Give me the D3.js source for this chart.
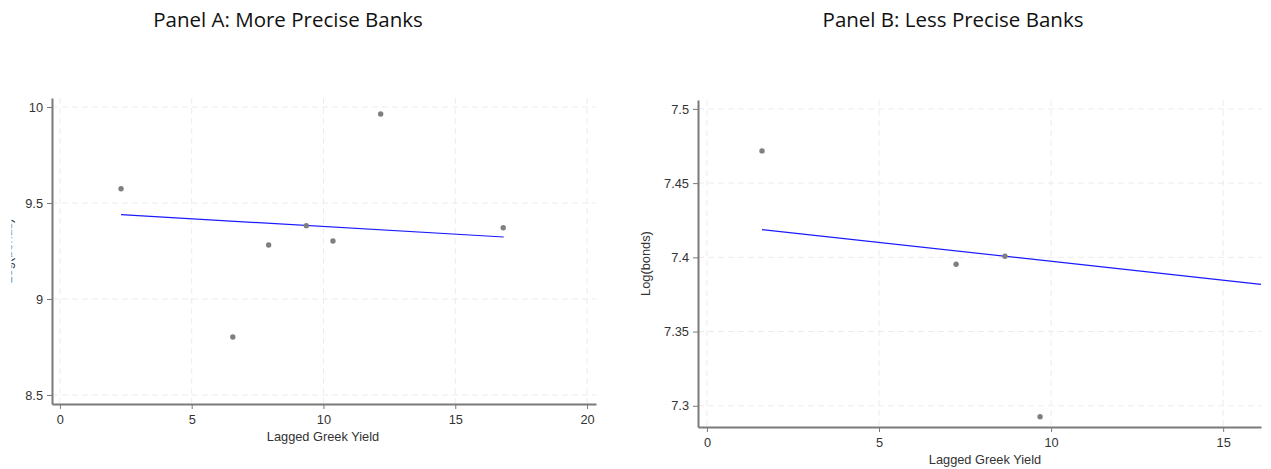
<!DOCTYPE html>
<html><head><meta charset="utf-8">
<script src="https://cdn.jsdelivr.net/npm/d3@7"></script>
<style>
body{margin:0;background:#fff;}
svg{display:block;}
.tick text{font-family:"Liberation Sans",Arial,sans-serif;font-size:12.8px;fill:#333;}
</style></head>
<body>
<svg id="chart" width="1271" height="469"></svg>
<script>
// Panel A: More Precise Banks
const yieldA = [2.32, 6.56, 7.92, 9.35, 10.36, 12.17, 16.82];
const bondsA = [9.574, 8.802, 9.281, 9.382, 9.302, 9.964, 9.371];
const fitA_x = [2.32, 16.84];
const fitA_y = [9.439, 9.323];
const ticksAx = [0, 5, 10, 15, 20];
const ticksAy = [8.5, 9, 9.5, 10];
const domainAx = [-0.3, 20.34];
const domainAy = [8.453, 10.047];

// Panel B: Less Precise Banks
const yieldB = [1.60, 7.24, 8.66, 9.68];
const bondsB = [7.4717, 7.3953, 7.4007, 7.2926];
const fitB_x = [1.60, 16.1];
const fitB_y = [7.4187, 7.3818];
const ticksBx = [0, 5, 10, 15];
const ticksBy = [7.3, 7.35, 7.4, 7.45, 7.5];
const domainBx = [-0.26, 16.1];
const domainBy = [7.2857, 7.506];

const titles = ["Panel A: More Precise Banks", "Panel B: Less Precise Banks"];
const xTitle = "Lagged Greek Yield";
const yTitle = "Log(bonds)";

const svg = d3.select("#chart");
const defs = svg.append("defs");
defs.append("clipPath").attr("id","clipA").append("rect")
  .attr("x",11.5).attr("y",0).attr("width",40).attr("height",469);

function panel(cfg){
  const g = svg.append("g");
  const x = d3.scaleLinear().domain(cfg.dx).range([cfg.left, cfg.right]);
  const y = d3.scaleLinear().domain(cfg.dy).range([cfg.bottom, cfg.top]);
  // grid
  g.append("g").selectAll("line").data(cfg.tx).join("line")
    .attr("x1",d=>x(d)).attr("x2",d=>x(d)).attr("y1",cfg.top).attr("y2",cfg.bottom)
    .attr("stroke","#ececec").attr("stroke-width",1).attr("stroke-dasharray","6,4");
  g.append("g").selectAll("line").data(cfg.ty).join("line")
    .attr("y1",d=>y(d)).attr("y2",d=>y(d)).attr("x1",cfg.left).attr("x2",cfg.right)
    .attr("stroke","#ececec").attr("stroke-width",1).attr("stroke-dasharray","6,4");
  // axes
  const ax = g.append("g").attr("transform",`translate(0,${cfg.bottom})`)
    .call(d3.axisBottom(x).tickValues(cfg.tx).tickFormat(d3.format("")).tickSize(5).tickPadding(6).tickSizeOuter(0));
  const ay = g.append("g").attr("transform",`translate(${cfg.left},0)`)
    .call(d3.axisLeft(y).tickValues(cfg.ty).tickFormat(d3.format("")).tickSize(5).tickPadding(4).tickSizeOuter(0));
  [ax,ay].forEach(a=>{
    a.select(".domain").attr("stroke","#7a7a7a").attr("stroke-width",2);
    a.selectAll(".tick line").attr("stroke","#7a7a7a").attr("stroke-width",1);
  });
  // fit line
  g.append("path").datum(cfg.fx.map((v,i)=>[v,cfg.fy[i]]))
    .attr("d", d3.line().x(d=>x(d[0])).y(d=>y(d[1])))
    .attr("stroke","#1a1aff").attr("stroke-width",1.2).attr("fill","none");
  // points
  g.append("g").selectAll("circle").data(cfg.px.map((v,i)=>[v,cfg.py[i]])).join("circle")
    .attr("cx",d=>x(d[0])).attr("cy",d=>y(d[1])).attr("r",2.7).attr("fill","#7f7f7f");
  // titles
  svg.append("text").attr("x",cfg.titleX).attr("y",27).attr("text-anchor","middle")
    .attr("font-family","'Open Sans',sans-serif").attr("font-size",20.5).attr("fill","#111")
    .text(cfg.title);
  svg.append("text").attr("x",cfg.xTitleX).attr("y",cfg.bottom+37).attr("text-anchor","middle")
    .attr("font-family","'Liberation Sans',Arial,sans-serif").attr("font-size",12.8).attr("fill","#333")
    .text(xTitle);
  const yt = svg.append("text")
    .attr("transform",`translate(${cfg.yTitleX},${(cfg.top+cfg.bottom)/2}) rotate(-90)`)
    .attr("text-anchor","middle")
    .attr("font-family","'Liberation Sans',Arial,sans-serif").attr("font-size",12.8).attr("fill","#333")
    .text(yTitle);
  return yt;
}

const ytA = panel({dx:domainAx, dy:domainAy, left:52, right:596, top:98, bottom:404,
  tx:ticksAx, ty:ticksAy, fx:fitA_x, fy:fitA_y, px:yieldA, py:bondsA,
  title:titles[0], titleX:288, xTitleX:323, yTitleX:12});
// the panel A y title is cut off at the left edge in the original
svg.append("g").attr("clip-path","url(#clipA)").node().appendChild(ytA.node());

panel({dx:domainBx, dy:domainBy, left:698, right:1261, top:100, bottom:427,
  tx:ticksBx, ty:ticksBy, fx:fitB_x, fy:fitB_y, px:yieldB, py:bondsB,
  title:titles[1], titleX:953, xTitleX:985, yTitleX:650});
</script>
</body></html>
